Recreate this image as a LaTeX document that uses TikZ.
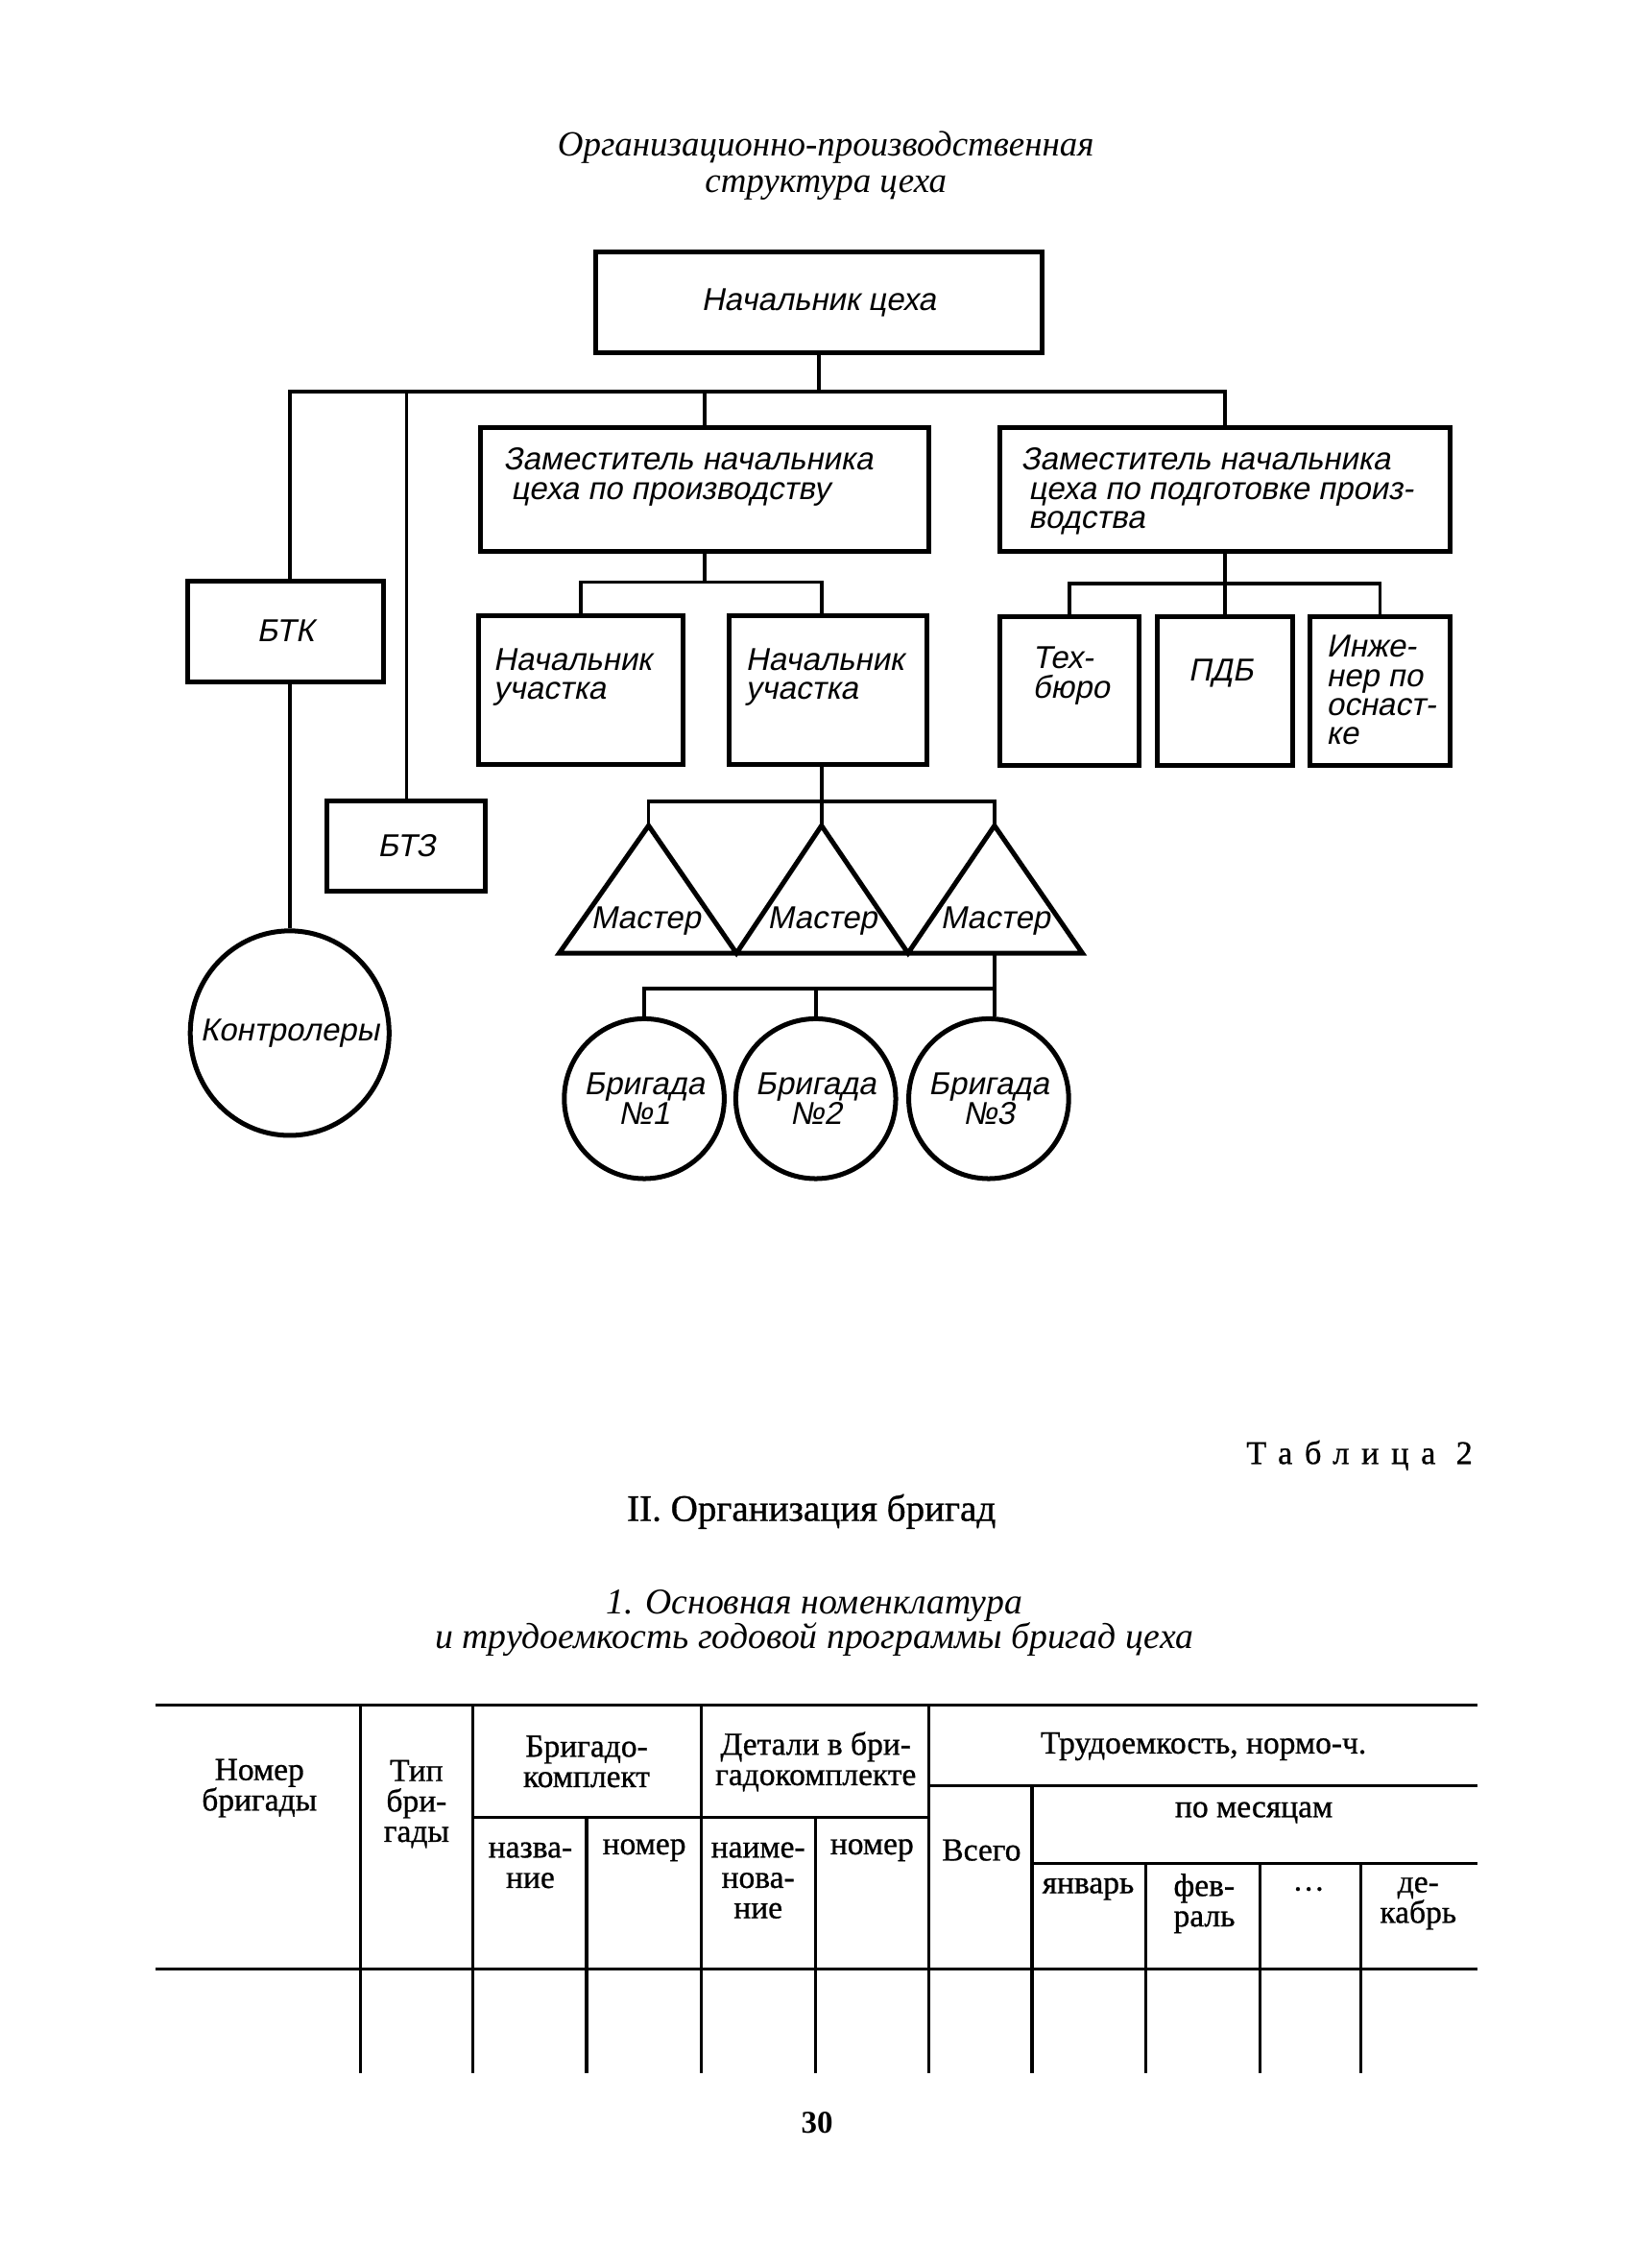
\documentclass[tikz,border=0pt]{standalone}
\usepackage{fontspec}
\setmainfont{Liberation Serif}
\newfontfamily\gost[FakeSlant=0.2]{Liberation Sans}
\newfontfamily\tabfont[FakeBold=0.8]{Liberation Serif}
\newfontfamily\spaced[LetterSpace=37, FakeBold=0.8]{Liberation Serif}
\usetikzlibrary{shapes.geometric}

\begin{document}
\begin{tikzpicture}[x=0.02cm, y=-0.02cm,
		box/.style={draw, line width=1.9pt, inner sep=0pt},
		oval/.style={draw, ellipse, line width=1.9pt, inner sep=0pt},
		wire/.style={line width=1.4pt},
		lbl/.style={font=\gost\fontsize{12.5}{11.5}\selectfont, inner sep=0pt},
		head/.style={font=\tabfont\fontsize{12.7}{12}\selectfont, align=center, inner sep=0pt},
		tabline/.style={line width=1.2pt}]
		\useasboundingbox (0, 0) rectangle (1133, 1574);

		\node[font=\itshape\fontsize{14}{14.3}\selectfont, align=center] (title) at (573, 115) {Организационно-производственная\\структура цеха};

		\node[box, lbl, minimum width=6.2cm, minimum height=1.4cm] (chief) at (568, 210) {Начальник цеха};
		\node[box, minimum width=6.22cm, minimum height=1.72cm] (dep1) at (489, 340) {};
		\node[box, minimum width=6.24cm, minimum height=1.72cm] (dep2) at (850, 340) {};
		\node[box, lbl, minimum width=2.72cm, minimum height=1.4cm] (btk) at (198, 438) {БТК};
		\node[box, lbl, minimum width=2.2cm, minimum height=1.25cm] (btz) at (282, 587) {БТЗ};
		\node[box, minimum width=2.84cm, minimum height=2.06cm] (nach1) at (403, 479) {};
		\node[box, minimum width=2.75cm, minimum height=2.06cm] (nach2) at (574.7, 479) {};
		\node[box, minimum width=1.92cm, minimum height=2.06cm] (tech) at (742, 479.5) {};
		\node[box, minimum width=1.88cm, minimum height=2.06cm] (pdb) at (850, 479.5) {};
		\node[box, minimum width=1.94cm, minimum height=2.06cm] (eng) at (957.5, 479.5) {};

		\node[lbl, anchor=west, align=left] (dep1txt) at (349, 331) {Заместитель начальника\\\hspace*{3pt}цеха по производству};
		\node[lbl, anchor=west, align=left] (dep2txt) at (708, 341) {Заместитель начальника\\\hspace*{3pt}цеха по подготовке произ-\\\hspace*{3pt}водства};
		\node[lbl, anchor=west, align=left] (nach1txt) at (342, 470) {Начальник\\участка};
		\node[lbl, anchor=west, align=left] (nach2txt) at (517, 470) {Начальник\\участка};
		\node[lbl, anchor=west, align=left] (techtxt) at (716, 469) {Тех-\\бюро};
		\node[lbl] (pdbtxt) at (847, 467) {ПДБ};
		\node[lbl, anchor=west, align=left] (engtxt) at (920, 479) {Инже-\\нер по\\оснаст-\\ке};

		\node[oval, minimum width=2.76cm, minimum height=2.84cm, label={[lbl]center:Контролеры}] (kontr) at (201, 717) {};
		\node[oval, minimum width=2.22cm, minimum height=2.22cm, label={[lbl, align=center]center:Бригада\\№1}] (bri1) at (447, 762.5) {};
		\node[oval, minimum width=2.22cm, minimum height=2.22cm, label={[lbl, align=center]center:Бригада\\№2}] (bri2) at (566, 762.5) {};
		\node[oval, minimum width=2.22cm, minimum height=2.22cm, label={[lbl, align=center]center:Бригада\\№3}] (bri3) at (686, 762.5) {};

		\coordinate (m1top) at (450, 573);
		\coordinate (m2top) at (570, 573);
		\coordinate (m3top) at (690, 573);
		\coordinate (m3base) at (690, 661.5);
		\draw[line width=1.9pt] (388, 661.5) -- (m1top) -- (511, 661.5) -- (m2top) -- (630, 661.5) -- (m3top) -- (751, 661.5) -- cycle;
		\node[lbl] (mast1) at (448, 639.5) {Мастер};
		\node[lbl] (mast2) at (570.5, 639.5) {Мастер};
		\node[lbl] (mast3) at (690.5, 639.5) {Мастер};

		\coordinate (tbus) at (568, 272);
		\draw[wire] (chief.south) -- (tbus);
		\draw[wire] (btk.north -| kontr.north) |- (tbus) -| (dep2.north);
		\draw[wire] (btz.north) -- (btz.north |- tbus);
		\draw[wire] (dep1.north) -- (dep1.north |- tbus);
		\draw[wire] (btk.south -| kontr.north) -- (kontr.north);

		\coordinate (nbus) at (489, 404);
		\draw[wire] (dep1.south) -- (nbus);
		\draw[wire] (nach1.north) |- (nbus) -| (nach2.north -| m2top);

		\coordinate (pbus) at (850, 405);
		\draw[wire] (dep2.south) -- (pdb.north);
		\draw[wire] (tech.north) |- (pbus) -| (eng.north);

		\coordinate (mbus) at (570, 556);
		\draw[wire] (nach2.south -| m2top) -- (m2top);
		\draw[wire] (m1top) |- (mbus) -| (m3top);

		\coordinate (bbus) at (690, 686);
		\draw[wire] (m3base) -- (bbus);
		\draw[wire] (bri1.north) |- (bbus);
		\draw[wire] (bri2.north) -- (bri2.north |- bbus);
		\draw[wire] (bbus) -- (bbus |- bri3.north);

		\node[font=\spaced\fontsize{13}{13}\selectfont, anchor=east, inner sep=0pt] (tabno) at (1022, 1010) {Таблица 2};
		\node[font=\tabfont\fontsize{14.8}{14.8}\selectfont] (part) at (563, 1049) {II. Организация бригад};
		\node[font=\itshape\fontsize{14.3}{13.6}\selectfont, align=center] (subtitle) at (565, 1126.5) {1. Основная номенклатура\\и трудоемкость годовой программы бригад цеха};

		\draw[tabline] (108, 1183.5) -- (1025, 1183.5);
		\draw[tabline] (108, 1366.5) -- (1025, 1366.5);
		\draw[tabline] (328, 1261) -- (644.5, 1261);
		\draw[tabline] (644.5, 1239) -- (1025, 1239);
		\draw[tabline] (716, 1293) -- (1025, 1293);
		\draw[tabline] (250, 1183.5) -- (250, 1439);
		\draw[tabline] (328, 1183.5) -- (328, 1439);
		\draw[tabline] (486.7, 1183.5) -- (486.7, 1439);
		\draw[tabline] (644.5, 1183.5) -- (644.5, 1439);
		\draw[tabline] (407, 1261) -- (407, 1439);
		\draw[tabline] (565.7, 1261) -- (565.7, 1439);
		\draw[tabline] (716, 1239) -- (716, 1439);
		\draw[tabline] (795, 1293) -- (795, 1439);
		\draw[tabline] (874, 1293) -- (874, 1439);
		\draw[tabline] (944, 1293) -- (944, 1439);

		\node[head] (hnum) at (180, 1241) {Номер\\бригады};
		\node[head] (htype) at (289, 1252) {Тип\\бри-\\гады};
		\node[head] (hset) at (407, 1222.5) {Бригадо-\\комплект};
		\node[head] (hparts) at (566, 1222.5) {Детали в бри-\\гадокомплекте};
		\node[head] (hlabor) at (835, 1212) {Трудоемкость, нормо-ч.};
		\node[head] (hmonths) at (870, 1258) {по месяцам};
		\node[head] (htotal) at (681, 1284) {Всего};
		\node[head] (hname) at (368, 1294.5) {назва-\\ние};
		\node[head] (hno) at (447, 1284) {номер};
		\node[head] (hpname) at (526, 1305) {наиме-\\нова-\\ние};
		\node[head] (hpno) at (605, 1284) {номер};
		\node[head] (hjan) at (755, 1311) {январь};
		\node[head, align=left, anchor=west] (hfeb) at (814, 1321) {фев-\\раль};
		\node[head] (hdots) at (908, 1311) {\dots};
		\node[head] (hdec) at (984, 1321) {де-\\кабрь};

		\node[font=\bfseries\fontsize{12.5}{12.5}\selectfont] (page) at (567, 1473) {30};
\end{tikzpicture}
\end{document}
